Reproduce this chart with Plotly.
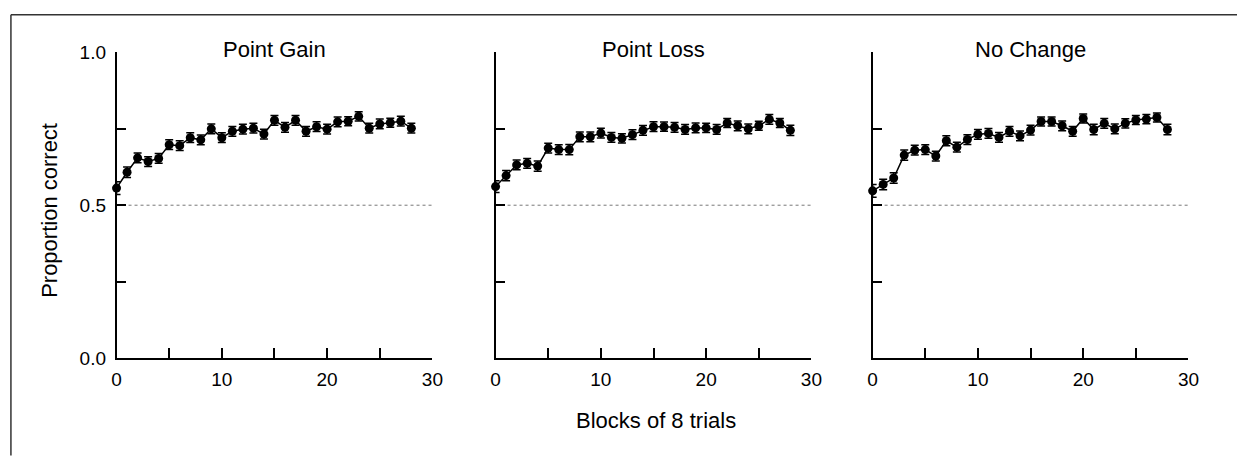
import plotly.graph_objects as go

W, H = 1237, 462

blocks = list(range(29))

gain = [0.556, 0.608, 0.655, 0.643, 0.653, 0.698, 0.695, 0.721, 0.714, 0.750,
        0.721, 0.742, 0.749, 0.752, 0.733, 0.778, 0.755, 0.778, 0.742, 0.757,
        0.749, 0.773, 0.775, 0.791, 0.752, 0.766, 0.770, 0.775, 0.752]
gain_err = [0.021, 0.017, 0.016, 0.016, 0.016, 0.016, 0.016, 0.016, 0.016, 0.016,
            0.016, 0.016, 0.016, 0.016, 0.016, 0.016, 0.016, 0.016, 0.016, 0.016,
            0.016, 0.016, 0.015, 0.015, 0.016, 0.016, 0.015, 0.016, 0.016]

loss = [0.561, 0.597, 0.632, 0.637, 0.628, 0.687, 0.682, 0.682, 0.724, 0.724,
        0.736, 0.722, 0.719, 0.731, 0.745, 0.757, 0.757, 0.755, 0.748, 0.753,
        0.753, 0.748, 0.769, 0.760, 0.750, 0.760, 0.781, 0.769, 0.745]
loss_err = [0.019, 0.017, 0.016, 0.016, 0.017, 0.016, 0.016, 0.017, 0.016, 0.016,
            0.016, 0.016, 0.015, 0.016, 0.016, 0.016, 0.015, 0.016, 0.016, 0.016,
            0.015, 0.016, 0.015, 0.016, 0.016, 0.015, 0.016, 0.015, 0.017]

nochange = [0.547, 0.568, 0.589, 0.664, 0.680, 0.682, 0.661, 0.711, 0.690, 0.715,
            0.732, 0.735, 0.722, 0.742, 0.727, 0.746, 0.774, 0.774, 0.760, 0.742,
            0.784, 0.748, 0.768, 0.750, 0.768, 0.779, 0.782, 0.787, 0.748]
nochange_err = [0.021, 0.017, 0.017, 0.017, 0.016, 0.016, 0.016, 0.016, 0.016, 0.016,
                0.016, 0.016, 0.016, 0.016, 0.016, 0.016, 0.015, 0.015, 0.016, 0.016,
                0.015, 0.017, 0.016, 0.016, 0.015, 0.015, 0.015, 0.015, 0.017]

panel_titles = ["Point Gain", "Point Loss", "No Change"]
series = [gain, loss, nochange]
errors = [gain_err, loss_err, nochange_err]

chance = 0.5
x_range = [0, 30]
x_tickvals = [0, 5, 10, 15, 20, 25, 30]
x_ticktext = ["0", "", "10", "", "20", "", "30"]
y_tickvals = [0, 0.25, 0.5, 0.75, 1.0]
y_ticktext = ["0.0", "", "0.5", "", "1.0"]

FONT = "Liberation Sans, Arial, Helvetica, sans-serif"

px_left = [113, 497, 879]
px_width = 320
px_top, px_bottom = 44.5, 364.5

fig = go.Figure()

for i in range(3):
    xa = "x" if i == 0 else f"x{i+1}"
    ya = "y" if i == 0 else f"y{i+1}"
    fig.add_trace(go.Scatter(
        x=[x_range[0], x_range[1]], y=[chance, chance], mode="lines",
        line=dict(color="#777777", width=1, dash="dot"),
        xaxis=xa, yaxis=ya, showlegend=False, hoverinfo="skip"))
    fig.add_trace(go.Scatter(
        x=blocks, y=series[i], mode="lines+markers",
        line=dict(color="black", width=1.5),
        marker=dict(color="black", size=9, symbol="circle"),
        error_y=dict(type="data", array=errors[i], visible=True,
                     color="black", thickness=1.5, width=4),
        cliponaxis=False, xaxis=xa, yaxis=ya, showlegend=False))

layout = dict(
    width=W, height=H,
    margin=dict(l=0, r=0, t=0, b=0),
    paper_bgcolor="white", plot_bgcolor="white",
    font=dict(family=FONT, color="black", size=19),
    showlegend=False,
)

for i in range(3):
    xk = "xaxis" if i == 0 else f"xaxis{i+1}"
    yk = "yaxis" if i == 0 else f"yaxis{i+1}"
    x0 = px_left[i] / W
    x1 = (px_left[i] + px_width) / W
    layout[xk] = dict(
        domain=[x0, x1], range=x_range, anchor="y" if i == 0 else f"y{i+1}",
        showline=True, linecolor="black", linewidth=1.5, mirror=False,
        showgrid=False, zeroline=False,
        ticks="inside", ticklen=10, tickwidth=1.5, tickcolor="black",
        tickmode="array", tickvals=x_tickvals, ticktext=x_ticktext,
        tickfont=dict(size=19, family=FONT), ticklabelstandoff=4,
        fixedrange=True)
    layout[yk] = dict(
        domain=[(H - px_bottom) / H, (H - px_top) / H], range=[0, 1],
        anchor="x" if i == 0 else f"x{i+1}",
        showline=True, linecolor="black", linewidth=1.5, mirror=False,
        showgrid=False, zeroline=False,
        ticks="inside", ticklen=10, tickwidth=1.5, tickcolor="black",
        tickmode="array", tickvals=y_tickvals,
        ticktext=y_ticktext if i == 0 else ["", "", "", "", ""],
        tickfont=dict(size=19, family=FONT), ticklabelstandoff=5,
        fixedrange=True)

fig.update_layout(**layout)

annotations = []
for i in range(3):
    cx = (px_left[i] + px_width / 2) / W
    annotations.append(dict(
        text=panel_titles[i], x=cx, y=1 - 41 / H, xref="paper", yref="paper",
        xanchor="center", yanchor="middle", showarrow=False,
        font=dict(size=22, family=FONT, color="black")))
annotations.append(dict(
    text="Blocks of 8 trials", x=660 / W, y=1 - 430 / H, xref="paper", yref="paper",
    xanchor="center", yanchor="middle", showarrow=False,
    font=dict(size=22, family=FONT, color="black")))
annotations.append(dict(
    text="Proportion correct", x=45 / W, y=1 - 210 / H, xref="paper", yref="paper",
    xanchor="center", yanchor="middle", showarrow=False, textangle=-90,
    font=dict(size=22, family=FONT, color="black")))
fig.update_layout(annotations=annotations)

# figure frame (top and left edges visible in the original)
fig.add_shape(type="line", xref="paper", yref="paper",
              x0=6 / W, x1=1.01, y0=1 - 5 / H, y1=1 - 5 / H,
              line=dict(color="#333333", width=1.5))
fig.add_shape(type="line", xref="paper", yref="paper",
              x0=6 / W, x1=6 / W, y0=1 - 5 / H, y1=-0.01,
              line=dict(color="#333333", width=1.5))

fig.write_html("out.html")
